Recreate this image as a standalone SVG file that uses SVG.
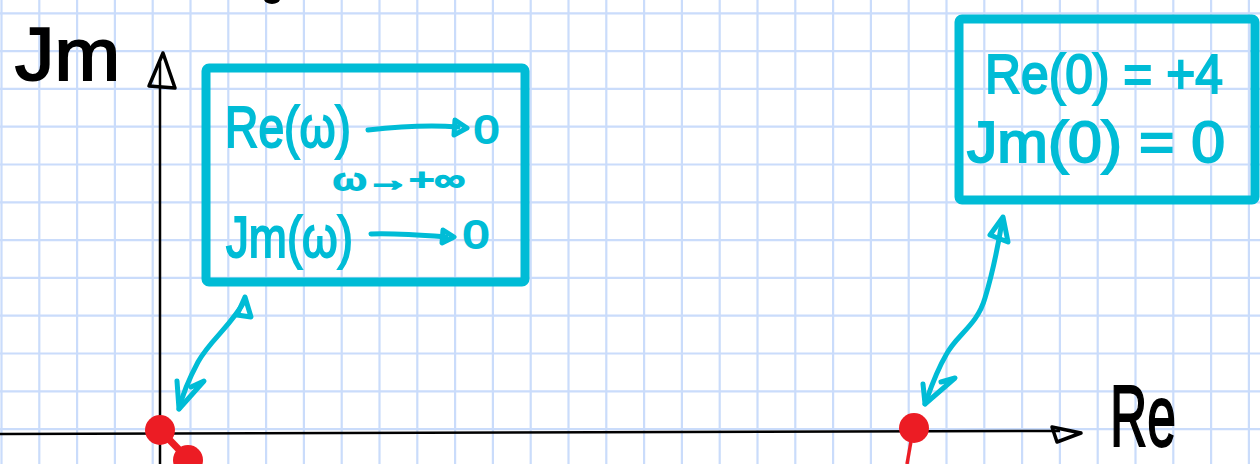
<svg xmlns="http://www.w3.org/2000/svg" width="1260" height="464" viewBox="0 0 1260 464">
<defs>
<style>
.grid{fill:none;stroke:#cadcfb;stroke-width:2.2}
.ink{fill:none;stroke:#000;stroke-width:3.5;stroke-linecap:round;stroke-linejoin:round}
.cy{fill:none;stroke:#00bcd6;stroke-width:5;stroke-linecap:round;stroke-linejoin:round}
.box{fill:none;stroke:#00bcd6;stroke-width:9;stroke-linejoin:round}
.ct{fill:#00bcd6;stroke:#00bcd6;stroke-width:2;font-family:"Liberation Sans",Arial,sans-serif}
.bt{fill:#000;stroke:#000;stroke-width:2;font-family:"Liberation Sans",Arial,sans-serif}
.red{fill:#ec1c24}
</style>
</defs>
<rect width="1260" height="464" fill="#fff"/>
<path class="grid" d="M1.5,0V464M39.3,0V464M77.1,0V464M114.9,0V464M152.7,0V464M190.5,0V464M228.3,0V464M266.1,0V464M303.9,0V464M341.7,0V464M379.5,0V464M417.3,0V464M455.1,0V464M492.9,0V464M530.7,0V464M568.5,0V464M606.3,0V464M644.1,0V464M681.9,0V464M719.7,0V464M757.5,0V464M795.3,0V464M833.1,0V464M870.9,0V464M908.7,0V464M946.5,0V464M984.3,0V464M1022.1,0V464M1059.9,0V464M1097.7,0V464M1135.5,0V464M1173.3,0V464M1211.1,0V464M1248.9,0V464M0,13.3H1260M0,51.1H1260M0,88.9H1260M0,126.7H1260M0,164.5H1260M0,202.3H1260M0,240.1H1260M0,277.9H1260M0,315.7H1260M0,353.5H1260M0,391.3H1260M0,429.1H1260"/>

<g id="axes">
<path d="M160,464 V62" stroke="#000" stroke-width="2.5" fill="none"/>
<path class="ink" d="M163,53 L149,86 L175,88 Z"/>
<path d="M0,434 L1060,431" stroke="#000" stroke-width="2.5" fill="none"/>
<path class="ink" d="M1052,427 L1057,442 L1081,433 Z"/>
<ellipse cx="272" cy="-1" rx="8" ry="5" fill="#000"/>
</g>

<g id="label-im">
<text class="bt" x="15" y="80" font-size="74" textLength="105" lengthAdjust="spacingAndGlyphs">Jm</text>
</g>
<g id="label-re">
<text class="bt" x="1110" y="446" font-size="88" textLength="66" lengthAdjust="spacingAndGlyphs">Re</text>
</g>

<g id="box-limit">
<rect class="box" x="206" y="68" width="319" height="214" rx="3"/>
<text class="ct" x="225" y="147" font-size="58" textLength="126" lengthAdjust="spacingAndGlyphs">Re(ω)</text>
<path class="cy" d="M368,130 C395,127 430,125 458,127"/>
<path class="cy" d="M455,120 L467,128 L454,135 Z"/>
<text class="ct" x="474" y="143" font-size="38" textLength="25" lengthAdjust="spacingAndGlyphs">0</text>
<text class="ct" x="333" y="190" font-size="30" stroke-width="1" textLength="132" lengthAdjust="spacingAndGlyphs">ω→+∞</text>
<text class="ct" x="226" y="257" font-size="58" textLength="127" lengthAdjust="spacingAndGlyphs">Jm(ω)</text>
<path class="cy" d="M371,234 C395,233 420,235 446,237"/>
<path class="cy" d="M443,230 L454,237 L442,243 Z"/>
<text class="ct" x="463" y="248" font-size="38" textLength="26" lengthAdjust="spacingAndGlyphs">0</text>
</g>

<g id="box-zero">
<rect class="box" x="959" y="19" width="296" height="181" rx="3"/>
<text class="ct" x="985" y="93" font-size="56" textLength="238" lengthAdjust="spacingAndGlyphs">Re(0) = +4</text>
<text class="ct" x="967" y="162" font-size="58" textLength="258" lengthAdjust="spacingAndGlyphs">Jm(0) = 0</text>
</g>

<g id="points">
<path d="M160,430 L188,459" stroke="#ec1c24" stroke-width="7" fill="none"/>
<circle class="red" cx="160" cy="430" r="15"/>
<circle class="red" cx="188" cy="460" r="15"/>
<path d="M913,430 L907,464" stroke="#ec1c24" stroke-width="3.5" fill="none"/>
<circle class="red" cx="914" cy="428" r="15"/>
</g>

<g id="connectors">
<path class="cy" d="M245,300 C232,325 210,340 198,362 C190,377 183,393 179,409"/>
<path class="cy" d="M245,297 L237,315 L251,317 Z"/>
<path class="cy" d="M177,381 L179,409 L204,381 L191,387"/>
<path class="cy" d="M1002,222 C997,252 992,275 985,298 C977,326 956,335 946,355 C936,372 930,390 925,404"/>
<path class="cy" d="M1003,217 L990,235 L1008,242 Z"/>
<path class="cy" d="M923,384 L925,404 L955,378 L941,382"/>
</g>
</svg>
